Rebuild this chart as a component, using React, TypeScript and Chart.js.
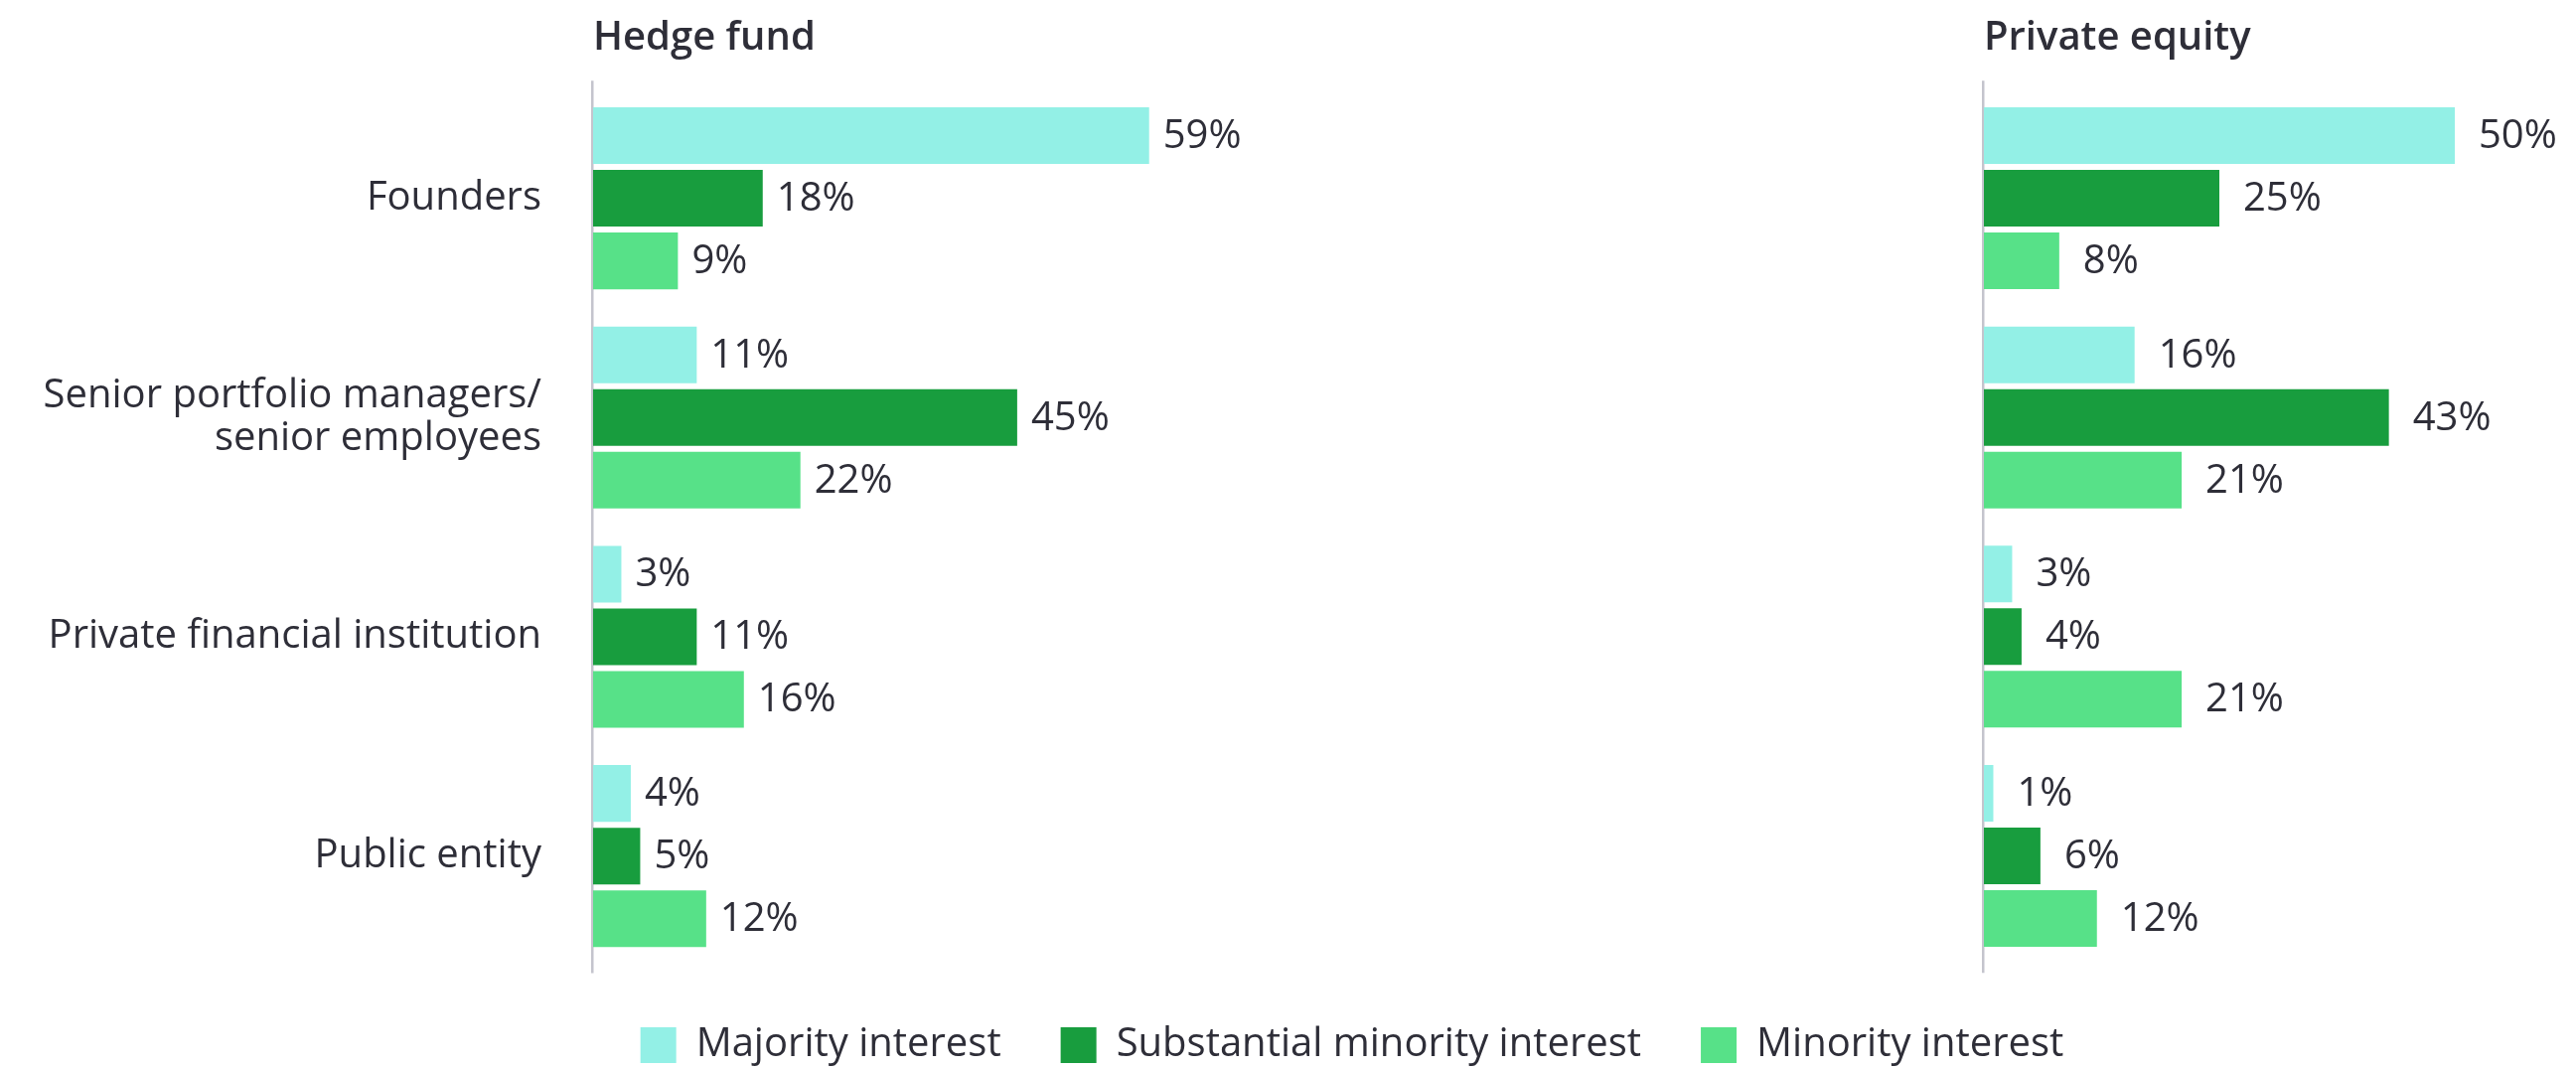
import { useEffect, useRef } from 'react';
import { Chart, registerables } from 'chart.js';

Chart.register(...registerables);

// Ownership categories (y axis) and the three interest levels (series)
const categories: (string | string[])[] = [
  'Founders',
  ['Senior portfolio managers/', 'senior employees'],
  'Private financial institution',
  'Public entity',
];
const seriesNames = ['Majority interest', 'Substantial minority interest', 'Minority interest'];
const seriesColors = ['#93F0E6', '#189D3E', '#57E188'];

// Hedge fund shares (%)
const hedgeMajority = [59, 11, 3, 4];
const hedgeSubstantial = [18, 45, 11, 5];
const hedgeMinority = [9, 22, 16, 12];

// Private equity shares (%)
const peMajority = [50, 16, 3, 1];
const peSubstantial = [25, 43, 4, 6];
const peMinority = [8, 21, 21, 12];

const panelTitles = ['Hedge fund', 'Private equity'];

const TEXT = '#2E2E38';
const AXIS = '#C4C4CD';
const FAMILY = '"Open Sans", "Noto Sans", sans-serif';

const CANVAS_H = 1082;
// The hedge fund canvas is wider than the page so its centred legend sits under both panels
const HEDGE_W = 2722;
const PE_LEFT = 1900;
const PE_W = 693;

function buildDatasets(values: number[][]) {
  return values.map((data, i) => ({
    label: seriesNames[i],
    data,
    backgroundColor: seriesColors[i],
    borderWidth: 0,
    categoryPercentage: 0.857,
    barPercentage: 0.905,
  }));
}

// Thin vertical baseline at the zero of the value axis
const axisLine = {
  id: 'axisLine',
  beforeDatasetsDraw(chart: Chart) {
    const { ctx, chartArea } = chart;
    ctx.save();
    ctx.fillStyle = AXIS;
    ctx.fillRect(chartArea.left - 2, chartArea.top - 8, 2.5, chartArea.bottom - chartArea.top + 15.5);
    ctx.restore();
  },
};

// Percentage labels to the right of each bar
function valueLabels(offset: number) {
  return {
    id: 'valueLabels',
    afterDatasetsDraw(chart: Chart) {
      const { ctx } = chart;
      ctx.save();
      ctx.font = `40px ${FAMILY}`;
      ctx.fillStyle = TEXT;
      ctx.textAlign = 'left';
      ctx.textBaseline = 'middle';
      chart.data.datasets.forEach((ds, i) => {
        const meta = chart.getDatasetMeta(i);
        meta.data.forEach((bar: any, j: number) => {
          ctx.fillText(`${ds.data[j]}%`, bar.x + offset, bar.y + 1);
        });
      });
      ctx.restore();
    },
  };
}

function titleOptions(text: string) {
  return {
    display: true,
    text,
    align: 'start' as const,
    fullSize: false,
    color: TEXT,
    font: { family: FAMILY, size: 40, weight: '600' as any, lineHeight: 1.2 },
    padding: { top: 14.5, bottom: 26.75 },
  };
}

export default function App() {
  const hedgeRef = useRef<HTMLCanvasElement | null>(null);
  const peRef = useRef<HTMLCanvasElement | null>(null);

  useEffect(() => {
    if (!hedgeRef.current || !peRef.current) return;

    const hedge = new Chart(hedgeRef.current, {
      type: 'bar',
      data: {
        labels: categories as any,
        datasets: buildDatasets([hedgeMajority, hedgeSubstantial, hedgeMinority]),
      },
      options: {
        indexAxis: 'y',
        responsive: false,
        animation: false,
        devicePixelRatio: 1,
        layout: { padding: { left: 0, right: 0, top: 0, bottom: 0 } },
        scales: {
          x: { display: false, min: 0, max: 224 },
          y: {
            grid: { display: false, drawTicks: false },
            border: { display: false },
            ticks: {
              padding: 52,
              color: TEXT,
              font: { family: FAMILY, size: 40, lineHeight: 1.075 },
            },
            afterFit: (scale: any) => {
              scale.width = 597;
            },
          },
        },
        plugins: {
          title: titleOptions(panelTitles[0]),
          legend: {
            display: true,
            position: 'bottom',
            align: 'center',
            labels: {
              boxWidth: 36,
              boxHeight: 36,
              padding: 60,
              color: TEXT,
              font: { family: FAMILY, size: 40 },
            },
          },
          tooltip: { enabled: false },
        },
      },
      plugins: [axisLine, valueLabels(14)],
    });

    const pe = new Chart(peRef.current, {
      type: 'bar',
      data: {
        labels: categories as any,
        datasets: buildDatasets([peMajority, peSubstantial, peMinority]),
      },
      options: {
        indexAxis: 'y',
        responsive: false,
        animation: false,
        devicePixelRatio: 1,
        layout: { padding: { left: 97, right: 27.2, top: 0, bottom: 110.25 } },
        scales: {
          x: { display: false, min: 0, max: 60 },
          y: { display: false },
        },
        plugins: {
          title: titleOptions(panelTitles[1]),
          legend: { display: false },
          tooltip: { enabled: false },
        },
      },
      plugins: [axisLine, valueLabels(24)],
    });

    return () => {
      hedge.destroy();
      pe.destroy();
    };
  }, []);

  return (
    <div
      style={{
        position: 'absolute',
        left: 0,
        top: 0,
        width: 2593,
        height: 1076,
        overflow: 'hidden',
        background: '#ffffff',
      }}
    >
      <canvas
        ref={hedgeRef}
        width={HEDGE_W}
        height={CANVAS_H}
        style={{ position: 'absolute', left: 0, top: 0, width: HEDGE_W, height: CANVAS_H }}
      />
      <canvas
        ref={peRef}
        width={PE_W}
        height={CANVAS_H}
        style={{ position: 'absolute', left: PE_LEFT, top: 0, width: PE_W, height: CANVAS_H }}
      />
    </div>
  );
}
